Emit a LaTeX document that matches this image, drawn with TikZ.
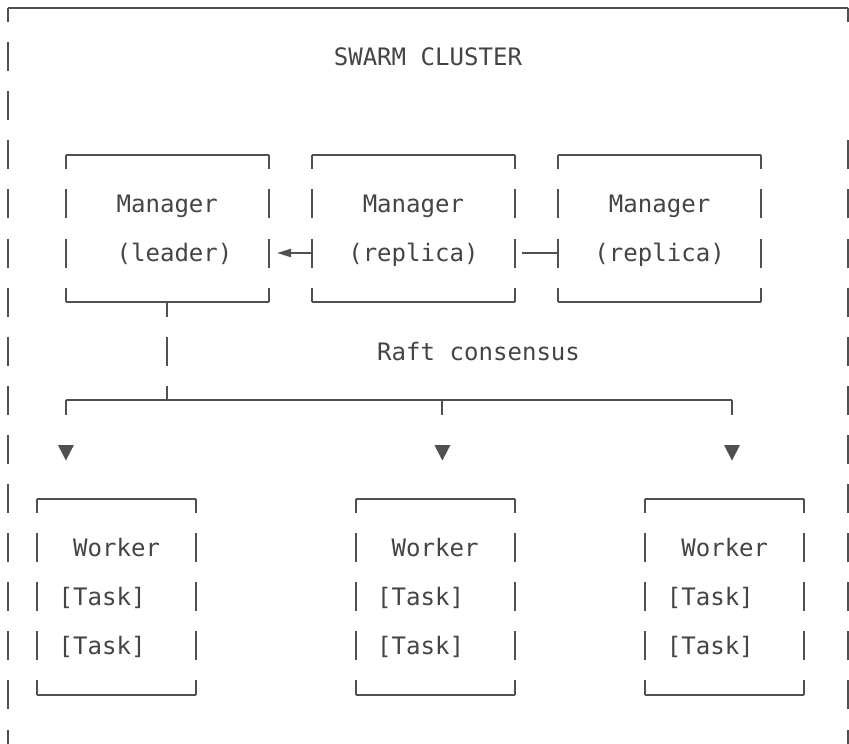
\documentclass[tikz,border=0pt]{standalone}
\usepackage{fontspec}
\newfontfamily\monofont{DejaVu Sans Mono}
\usetikzlibrary{arrows.meta}
\definecolor{ink}{HTML}{444444}
\definecolor{rulec}{HTML}{505050}
\tikzset{
  lbl/.style={inner sep=0pt, outer sep=0pt, anchor=base west, text=ink,
    font=\monofont\fontsize{24.05}{28}\selectfont},
  hline/.style={draw=rulec, line width=2pt},
  vseg/.style={draw=rulec, line width=2pt, dash pattern=on 29pt off 20.1pt, dash phase=14.5pt},
  vsegfull/.style={draw=rulec, line width=2pt, dash pattern=on 29pt off 20.1pt},
  tri/.style={fill=rulec, draw=none},
}
\begin{document}
\begin{tikzpicture}[x=1pt,y=-1pt]
\useasboundingbox (0,0) rectangle (849,744);
\clip (0,0) rectangle (849,744);

% ---------- outer cluster frame ----------
\coordinate (otl) at (8,7.5);
\coordinate (otr) at (847.84,7.5);
\coordinate (obl) at (8,758.5);
\coordinate (otrend) at (847.84,22);
\coordinate (ors) at (847.84,140.3);
\coordinate (ore) at (847.84,758.5);
\draw[hline] (otl) -- (otr);
\draw[vseg] (otl) -- (obl);
\draw[hline] (otr) -- (otrend);
\draw[vsegfull] (ors) -- (ore);

\node[lbl] (title) at (333.8,65.4) {SWARM CLUSTER};

% ---------- manager boxes ----------
% leader
\coordinate (m1tl) at (65.92,154.8);  \coordinate (m1tr) at (268.64,154.8);
\coordinate (m1bl) at (65.92,302.1);  \coordinate (m1br) at (268.64,302.1);
% replica 1
\coordinate (m2tl) at (312.08,154.8); \coordinate (m2tr) at (514.8,154.8);
\coordinate (m2bl) at (312.08,302.1); \coordinate (m2br) at (514.8,302.1);
% replica 2
\coordinate (m3tl) at (558.24,154.8); \coordinate (m3tr) at (760.96,154.8);
\coordinate (m3bl) at (558.24,302.1); \coordinate (m3br) at (760.96,302.1);

\foreach \b in {m1,m2,m3}{
  \draw[hline] (\b tl) -- (\b tr);
  \draw[hline] (\b bl) -- (\b br);
  \draw[vseg] (\b tl) -- (\b bl);
  \draw[vseg] (\b tr) -- (\b br);
}

\node[lbl] (m1a) at (116.6,212.7) {Manager};
\node[lbl] (m1b) at (116.6,261.8) {(leader)};
\node[lbl] (m2a) at (362.76,212.7) {Manager};
\node[lbl] (m2b) at (348.28,261.8) {(replica)};
\node[lbl] (m3a) at (608.92,212.7) {Manager};
\node[lbl] (m3b) at (594.44,261.8) {(replica)};

% replica links
\coordinate (m2in) at (312.08,253);
\coordinate (m1tip) at (277,253);
\coordinate (m2out) at (522.04,253);
\coordinate (m3in) at (558.24,253);
\draw[hline, -{Triangle[length=14pt,width=8pt]}] (m2in) -- (m1tip);
\draw[hline] (m2out) -- (m3in);

\node[lbl] (raft) at (377.24,360) {Raft consensus};

% ---------- leader to workers ----------
\coordinate (lead) at (167.28,302.1);
\coordinate (bus) at (167.28,400.3);
\draw[vseg] (lead) -- (bus);

\coordinate (b1) at (65.92,400.3);
\coordinate (b2) at (442.4,400.3);
\coordinate (b3) at (732,400.3);
\draw[hline] (b1) -- (b3);
\foreach \p/\x in {1/65.92,2/442.4,3/732}{
  \draw[hline] (b\p) -- ++(0,14.5);
  \coordinate (a\p) at (\x,460.5);
  \fill[tri] (a\p) -- ++(-8,-15.5) -- ++(16,0) -- cycle;
}

% ---------- worker boxes ----------
\coordinate (w1tl) at (36.96,498.5);  \coordinate (w1tr) at (196.24,498.5);
\coordinate (w1bl) at (36.96,694.9);  \coordinate (w1br) at (196.24,694.9);
\coordinate (w2tl) at (355.52,498.5); \coordinate (w2tr) at (514.8,498.5);
\coordinate (w2bl) at (355.52,694.9); \coordinate (w2br) at (514.8,694.9);
\coordinate (w3tl) at (645.12,498.5); \coordinate (w3tr) at (804.4,498.5);
\coordinate (w3bl) at (645.12,694.9); \coordinate (w3br) at (804.4,694.9);

\foreach \b in {w1,w2,w3}{
  \draw[hline] (\b tl) -- (\b tr);
  \draw[hline] (\b bl) -- (\b br);
  \draw[vseg] (\b tl) -- (\b bl);
  \draw[vseg] (\b tr) -- (\b br);
}

\node[lbl] (w1a) at (73.16,556.4) {Worker};
\node[lbl] (w1b) at (58.68,605.5) {[Task]};
\node[lbl] (w1c) at (58.68,654.6) {[Task]};
\node[lbl] (w2a) at (391.72,556.4) {Worker};
\node[lbl] (w2b) at (377.24,605.5) {[Task]};
\node[lbl] (w2c) at (377.24,654.6) {[Task]};
\node[lbl] (w3a) at (681.32,556.4) {Worker};
\node[lbl] (w3b) at (666.84,605.5) {[Task]};
\node[lbl] (w3c) at (666.84,654.6) {[Task]};
\end{tikzpicture}
\end{document}
